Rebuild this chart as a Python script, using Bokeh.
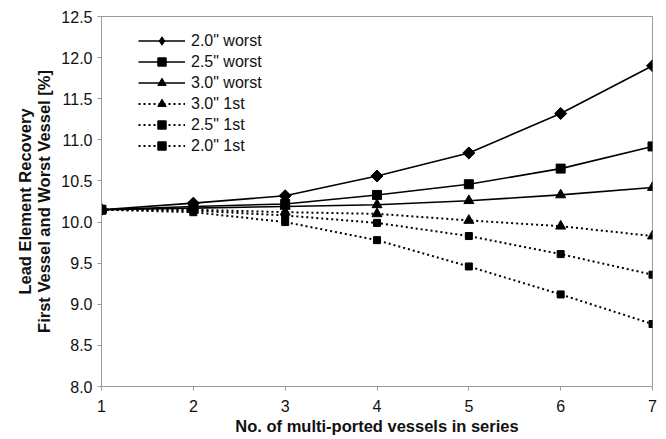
import math
from bokeh.plotting import figure
from bokeh.models import Range1d, FixedTicker, Legend, NumeralTickFormatter
from bokeh.embed import file_html
from bokeh.resources import INLINE

x = [1, 2, 3, 4, 5, 6, 7]
worst_20 = [10.15, 10.23, 10.32, 10.56, 10.84, 11.32, 11.90]
worst_25 = [10.15, 10.19, 10.22, 10.33, 10.46, 10.65, 10.92]
worst_30 = [10.15, 10.17, 10.19, 10.21, 10.26, 10.33, 10.42]
first_30 = [10.15, 10.15, 10.12, 10.10, 10.02, 9.95, 9.83]
first_25 = [10.15, 10.14, 10.08, 9.99, 9.83, 9.61, 9.36]
first_20 = [10.15, 10.12, 10.00, 9.78, 9.46, 9.12, 8.76]
y_ticks = [8.0, 8.5, 9.0, 9.5, 10.0, 10.5, 11.0, 11.5, 12.0, 12.5]
x_ticks = [1, 2, 3, 4, 5, 6, 7]

# label, values, marker, size, angle, legend marker, legend size, dash
series = [
    ('2.0" worst', worst_20, "square", 8.5, math.pi / 4, "diamond", 13, "solid"),
    ('2.5" worst', worst_25, "square", 9, 0, "square", 9, "solid"),
    ('3.0" worst', worst_30, "triangle", 10, 0, "triangle", 10, "solid"),
    ('3.0" 1st', first_30, "triangle", 10, 0, "triangle", 10, "2 3"),
    ('2.5" 1st', first_25, "square", 7, 0, "square", 7, "2 3"),
    ('2.0" 1st', first_20, "square", 7, 0, "square", 7, "2 3"),
]

p = figure(width=666, height=439, output_backend="svg", toolbar_location=None,
           x_range=Range1d(1, 7), y_range=Range1d(8.0, 12.5),
           min_border_left=101, min_border_right=14, min_border_top=16, min_border_bottom=53)
p.background_fill_color = "white"
p.border_fill_color = "white"
p.outline_line_color = "#9a9a9a"
p.outline_line_width = 1
p.xgrid.visible = False
p.ygrid.visible = False

items = []
for label, ys, marker, size, ang, lmarker, lsize, dash in series:
    r1 = p.line(x, ys, line_color="black", line_width=1.6 if dash == "solid" else 2, line_dash=dash)
    p.scatter(x, ys, marker=marker, size=size, angle=ang, fill_color="black", line_color="black")
    r3 = p.scatter([float("nan")], [float("nan")], marker=lmarker, size=lsize,
                   fill_color="black", line_color="black")
    items.append((label, [r1, r3]))

legend = Legend(items=items, location=(37, 230), border_line_color=None,
                background_fill_alpha=0, padding=0, margin=0, spacing=0,
                glyph_width=47, glyph_height=21, label_height=21, label_standoff=6,
                label_text_font="Liberation Sans", label_text_font_size="16px",
                label_text_color="#111111")
p.add_layout(legend)

for ax in (p.xaxis, p.yaxis):
    ax.axis_line_color = "#9a9a9a"
    ax.major_tick_line_color = "#9a9a9a"
    ax.minor_tick_line_color = None
    ax.major_tick_in = 0
    ax.major_tick_out = 4
    ax.major_label_text_font = "Liberation Sans"
    ax.major_label_text_font_size = "16px"
    ax.major_label_text_color = "#111111"
    ax.axis_label_text_font = "Liberation Sans"
    ax.axis_label_text_font_size = "16.5px"
    ax.axis_label_text_font_style = "bold"
    ax.axis_label_text_color = "#111111"

p.xaxis.ticker = FixedTicker(ticks=x_ticks)
p.yaxis.ticker = FixedTicker(ticks=y_ticks)
p.yaxis.formatter = NumeralTickFormatter(format="0.0")
p.xaxis.major_label_standoff = 9
p.yaxis.major_label_standoff = 5
p.xaxis.axis_label = "No. of multi-ported vessels in series"
p.xaxis.axis_label_standoff = 2
p.yaxis.axis_label = "Lead Element Recovery\nFirst Vessel and Worst Vessel [%]"
p.yaxis.axis_label_standoff = 5
p.yaxis.axis_label_text_line_height = 1.1

open("out.html", "w").write(file_html(p, INLINE))
